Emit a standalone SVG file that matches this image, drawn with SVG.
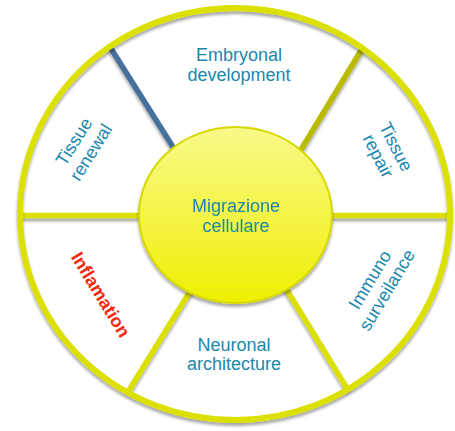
<svg xmlns="http://www.w3.org/2000/svg" width="455" height="431" viewBox="0 0 455 431">
  <defs>
    <filter id="sh" x="-20%" y="-20%" width="140%" height="140%">
      <feGaussianBlur in="SourceAlpha" stdDeviation="1.8"/>
      <feOffset dx="0" dy="3" result="b"/>
      <feComponentTransfer><feFuncA type="linear" slope="0.35"/></feComponentTransfer>
      <feMerge><feMergeNode/><feMergeNode in="SourceGraphic"/></feMerge>
    </filter>
    <linearGradient id="yg" x1="0" y1="0" x2="0" y2="1">
      <stop offset="0" stop-color="#f9f98a"/>
      <stop offset="0.5" stop-color="#f4f448"/>
      <stop offset="1" stop-color="#eef000"/>
    </linearGradient>
    <style>
      .spoke { stroke: #dbe000; stroke-width: 5.5; fill: none; stroke-linecap: butt; }
      .lbl { font-family: "Liberation Sans", Arial, sans-serif; font-size: 18px; fill: #1a87ad; text-anchor: middle; }
      .red { font-family: "Liberation Sans", Arial, sans-serif; font-size: 18px; font-weight: bold; fill: #f52a0c; text-anchor: middle; }
    </style>
  </defs>
  <rect width="455" height="431" fill="#ffffff"/>
  <ellipse cx="235" cy="214" rx="215" ry="206" fill="#ffffff"/>
  <g id="connectors" filter="url(#sh)">
    <line class="spoke" x1="20" y1="215.5" x2="150" y2="215.5"/>
    <line class="spoke" x1="320" y1="215.5" x2="450" y2="215.5"/>
    <line class="spoke" x1="110" y1="47" x2="178" y2="155" style="stroke:#45709c"/>
    <line class="spoke" x1="362" y1="49" x2="296" y2="158" style="stroke:#b8bb00"/>
    <line class="spoke" x1="194" y1="285" x2="128" y2="392"/>
    <line class="spoke" x1="282" y1="282" x2="348" y2="390"/>
  </g>
  <g id="ring" filter="url(#sh)">
    <ellipse cx="235" cy="214" rx="215" ry="206" fill="none" stroke="#dbe000" stroke-width="6"/>
  </g>
  <g id="center" filter="url(#sh)">
    <ellipse cx="235.5" cy="215" rx="96.5" ry="88" fill="url(#yg)" stroke="#d6d800" stroke-width="2"/>
    <text class="lbl" x="236" y="212">Migrazione</text>
    <text class="lbl" x="236" y="232">cellulare</text>
  </g>
  <g id="embryonal">
    <text class="lbl" x="239" y="61">Embryonal</text>
    <text class="lbl" x="239" y="81">development</text>
  </g>
  <g id="tissue-renewal" transform="translate(82.5,147) rotate(-58)">
    <text class="lbl" x="0" y="-4">Tissue</text>
    <text class="lbl" x="0" y="16">renewal</text>
  </g>
  <g id="tissue-repair" transform="translate(387,151.5) rotate(63)">
    <text class="lbl" x="0" y="-4">Tissue</text>
    <text class="lbl" x="0" y="16">repair</text>
  </g>
  <g id="inflamation" transform="translate(101,294.5) rotate(58.5)">
    <text class="red" x="0" y="6.5">Inflamation</text>
  </g>
  <g id="immuno" transform="translate(378.5,285) rotate(-59)">
    <text class="lbl" x="0" y="-4">Immuno</text>
    <text class="lbl" x="0" y="16">surveilance</text>
  </g>
  <g id="neuronal">
    <text class="lbl" x="234" y="351">Neuronal</text>
    <text class="lbl" x="234" y="370">architecture</text>
  </g>
</svg>
